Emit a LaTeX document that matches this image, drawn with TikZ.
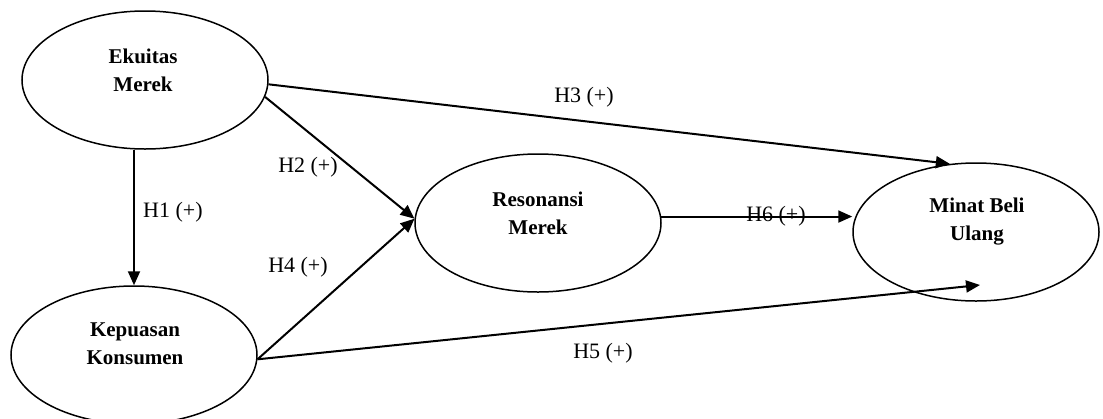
\documentclass[tikz,border=0pt]{standalone}
\usepackage{fontspec}
\setmainfont{Liberation Serif}
\usetikzlibrary{shapes.geometric,arrows.meta}

\tikzset{
  construct/.style={ellipse, draw=black, line width=1.5pt, minimum width=246pt,
    minimum height=138pt, inner sep=0pt},
  ctext/.style={font=\fontsize{21}{28}\selectfont\bfseries, align=center, inner sep=0pt},
  hyp/.style={font=\fontsize{22}{26}\selectfont, inner sep=0pt},
  path/.style={draw=black, line width=2pt, -{Triangle[length=14pt,width=12pt]}}
}

\begin{document}
\begin{tikzpicture}[x=1pt,y=-1pt]
\useasboundingbox (0,0) rectangle (1103,418);

% latent constructs
\node[construct] (ekuitas)   at (145,80)  {};
\node[construct] (kepuasan)  at (134,355) {};
\node[construct] (resonansi) at (538,223) {};
\node[construct] (minat)     at (976,232) {};

\node[ctext] (tekuitas)   at (143,70)  {Ekuitas\\Merek};
\node[ctext] (tkepuasan)  at (135,344) {Kepuasan\\Konsumen};
\node[ctext] (tresonansi) at (538,213) {Resonansi\\Merek};
\node[ctext] (tminat)     at (977,222) {Minat Beli\\Ulang};

\coordinate (h5end) at (980,285);

% hypothesised paths
\draw[path] (kepuasan.north |- ekuitas.south) -- (kepuasan.north);
\draw[path] (ekuitas.-8) -- (resonansi.178);
\draw[path] (ekuitas.-2) -- (minat.111);
\draw[path] (kepuasan.-2) -- (resonansi.178);
\draw[path] (kepuasan.-2) -- (h5end);
\draw[path] (resonansi.3) -- (resonansi.3 -| minat.west);

% path labels
\node[hyp, anchor=west] (lh1) at (143,212) {H1 (+)};
\node[hyp] (lh2) at (308,167) {H2 (+)};
\node[hyp] (lh3) at (584,97)  {H3 (+)};
\node[hyp] (lh4) at (298,267) {H4 (+)};
\node[hyp] (lh5) at (603,353) {H5 (+)};
\node[hyp] (lh6) at (776,216) {H6 (+)};
\end{tikzpicture}
\end{document}
